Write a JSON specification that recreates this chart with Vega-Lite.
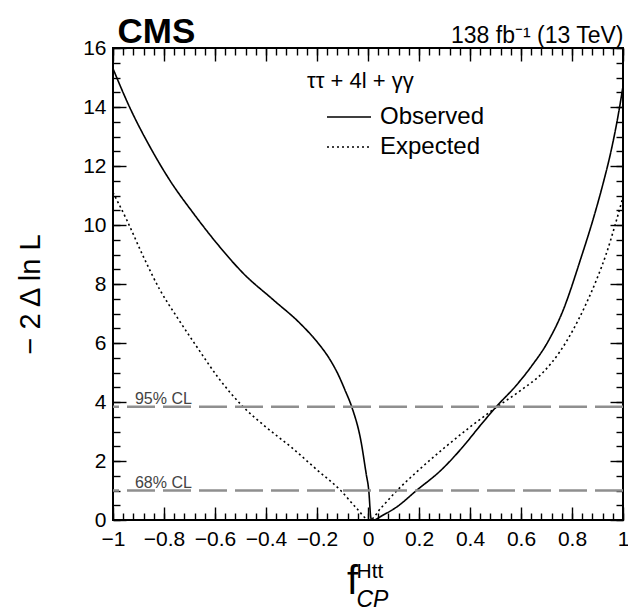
{
  "$schema": "https://vega.github.io/schema/vega-lite/v6.json",
  "width": 510,
  "height": 472,
  "autosize": "none",
  "padding": {"left": 113, "top": 48, "right": 5, "bottom": 91},
  "background": "white",
  "datasets": {
    "curves": [
      {"series": "Observed", "x": -1.0, "y": 15.3},
      {"series": "Observed", "x": -0.933, "y": 13.96},
      {"series": "Observed", "x": -0.855, "y": 12.65},
      {"series": "Observed", "x": -0.776, "y": 11.5},
      {"series": "Observed", "x": -0.685, "y": 10.4},
      {"series": "Observed", "x": -0.593, "y": 9.38},
      {"series": "Observed", "x": -0.489, "y": 8.36},
      {"series": "Observed", "x": -0.371, "y": 7.46},
      {"series": "Observed", "x": -0.267, "y": 6.67},
      {"series": "Observed", "x": -0.196, "y": 6.0},
      {"series": "Observed", "x": -0.15, "y": 5.45},
      {"series": "Observed", "x": -0.118, "y": 4.95},
      {"series": "Observed", "x": -0.09, "y": 4.4},
      {"series": "Observed", "x": -0.064, "y": 3.84},
      {"series": "Observed", "x": -0.028, "y": 2.69},
      {"series": "Observed", "x": -0.007, "y": 1.56},
      {"series": "Observed", "x": 0.003, "y": 1.0},
      {"series": "Observed", "x": 0.011, "y": 0.09},
      {"series": "Observed", "x": 0.015, "y": 0.0},
      {"series": "Observed", "x": 0.03, "y": 0.02},
      {"series": "Observed", "x": 0.05, "y": 0.12},
      {"series": "Observed", "x": 0.114, "y": 0.45},
      {"series": "Observed", "x": 0.19, "y": 1.0},
      {"series": "Observed", "x": 0.284, "y": 1.67},
      {"series": "Observed", "x": 0.37, "y": 2.46},
      {"series": "Observed", "x": 0.44, "y": 3.2},
      {"series": "Observed", "x": 0.503, "y": 3.84},
      {"series": "Observed", "x": 0.58, "y": 4.55},
      {"series": "Observed", "x": 0.64, "y": 5.2},
      {"series": "Observed", "x": 0.706, "y": 6.05},
      {"series": "Observed", "x": 0.76, "y": 7.0},
      {"series": "Observed", "x": 0.837, "y": 8.93},
      {"series": "Observed", "x": 0.882, "y": 10.17},
      {"series": "Observed", "x": 0.922, "y": 11.41},
      {"series": "Observed", "x": 0.954, "y": 12.54},
      {"series": "Observed", "x": 0.98, "y": 13.67},
      {"series": "Observed", "x": 1.0, "y": 14.7},
      {"series": "Expected", "x": -1.0, "y": 11.1},
      {"series": "Expected", "x": -0.946, "y": 10.17},
      {"series": "Expected", "x": -0.881, "y": 8.93},
      {"series": "Expected", "x": -0.816, "y": 7.8},
      {"series": "Expected", "x": -0.75, "y": 6.89},
      {"series": "Expected", "x": -0.672, "y": 5.88},
      {"series": "Expected", "x": -0.585, "y": 4.8},
      {"series": "Expected", "x": -0.49, "y": 3.84},
      {"series": "Expected", "x": -0.4, "y": 3.15},
      {"series": "Expected", "x": -0.3, "y": 2.46},
      {"series": "Expected", "x": -0.2, "y": 1.7},
      {"series": "Expected", "x": -0.107, "y": 1.0},
      {"series": "Expected", "x": -0.05, "y": 0.45},
      {"series": "Expected", "x": 0.007, "y": 0.0},
      {"series": "Expected", "x": 0.05, "y": 0.4},
      {"series": "Expected", "x": 0.114, "y": 1.0},
      {"series": "Expected", "x": 0.2, "y": 1.7},
      {"series": "Expected", "x": 0.3, "y": 2.45},
      {"series": "Expected", "x": 0.4, "y": 3.15},
      {"series": "Expected", "x": 0.5, "y": 3.8},
      {"series": "Expected", "x": 0.6, "y": 4.4},
      {"series": "Expected", "x": 0.686, "y": 5.0},
      {"series": "Expected", "x": 0.752, "y": 5.7},
      {"series": "Expected", "x": 0.804, "y": 6.44},
      {"series": "Expected", "x": 0.85, "y": 7.23},
      {"series": "Expected", "x": 0.896, "y": 8.14},
      {"series": "Expected", "x": 0.935, "y": 9.04},
      {"series": "Expected", "x": 0.967, "y": 9.94},
      {"series": "Expected", "x": 1.0, "y": 10.95}
    ],
    "cl": [
      {"label": "95% CL", "y": 3.84},
      {"label": "68% CL", "y": 1.0}
    ]
  },
  "layer": [
    {
      "data": {"name": "curves"},
      "transform": [{"filter": "datum.series === 'Observed'"}],
      "mark": {"type": "line", "color": "black", "strokeWidth": 1.6, "interpolate": "monotone"},
      "encoding": {
        "x": {"field": "x", "type": "quantitative", "scale": {"domain": [-1, 1], "nice": false, "zero": false},
          "axis": {"orient": "bottom", "values": [-1, -0.8, -0.6, -0.4, -0.2, 0, 0.2, 0.4, 0.6, 0.8, 1], "format": ".1~f", "tickSize": -13, "labelPadding": 21, "labelFlush": false, "labelOverlap": false, "labelFontSize": 21,
            "title": "f", "titleFontSize": 40, "titleFontWeight": "normal", "titleX": 239, "titleY": 73, "titleAlign": "center", "titleBaseline": "alphabetic", "titleAngle": 0}},
        "y": {"field": "y", "type": "quantitative", "scale": {"domain": [0, 16], "nice": false, "zero": false},
          "axis": {"orient": "left", "values": [0, 2, 4, 6, 8, 10, 12, 14, 16], "format": "d", "tickSize": -13, "labelPadding": 20, "labelOverlap": false, "labelFontSize": 21,
            "title": "− 2 Δ ln L", "titleFontSize": 29, "titleFontWeight": "normal", "titleX": -83, "titleY": 246, "titleAngle": -90, "titleAlign": "center", "titleBaseline": "middle"}},
        "strokeDash": {"field": "series", "type": "nominal", "scale": {"domain": ["Observed", "Expected"], "range": [[1, 0], [2, 3]]},
          "legend": {"orient": "none", "legendX": 194, "legendY": 23, "title": "ττ + 4l + γγ", "clipHeight": 30, "rowPadding": 0, "titlePadding": 9}}
      }
    },
    {
      "data": {"name": "curves"},
      "transform": [{"filter": "datum.series === 'Expected'"}],
      "mark": {"type": "line", "color": "black", "strokeWidth": 1.6, "interpolate": "monotone"},
      "encoding": {
        "x": {"field": "x", "type": "quantitative",
          "axis": {"orient": "top", "values": [-1, -0.8, -0.6, -0.4, -0.2, 0, 0.2, 0.4, 0.6, 0.8, 1], "labels": false, "tickSize": -13,
            "title": "138 fb⁻¹ (13 TeV)", "titleFontSize": 23, "titleFontWeight": "normal", "titleX": 510, "titleY": -6, "titleAlign": "right", "titleBaseline": "alphabetic", "titleAngle": 0}},
        "y": {"field": "y", "type": "quantitative",
          "axis": {"orient": "right", "values": [0, 2, 4, 6, 8, 10, 12, 14, 16], "labels": false, "tickSize": -13,
            "title": "CMS", "titleFontSize": 35, "titleFontWeight": "bold", "titleX": -506, "titleY": -6, "titleAngle": 0, "titleAlign": "left", "titleBaseline": "alphabetic"}},
        "strokeDash": {"field": "series", "type": "nominal"}
      }
    },
    {
      "data": {"name": "cl"},
      "mark": {"type": "rule", "color": "#8f8f8f", "strokeWidth": 2.6, "strokeDash": [28, 8]},
      "encoding": {
        "y": {"field": "y", "type": "quantitative",
          "axis": {"orient": "left", "values": [0, 0.5, 1, 1.5, 2, 2.5, 3, 3.5, 4, 4.5, 5, 5.5, 6, 6.5, 7, 7.5, 8, 8.5, 9, 9.5, 10, 10.5, 11, 11.5, 12, 12.5, 13, 13.5, 14, 14.5, 15, 15.5, 16], "labels": false, "tickSize": -7, "title": null}}
      }
    },
    {
      "data": {"name": "cl"},
      "transform": [{"filter": "datum.label === '95% CL'"}],
      "mark": {"type": "text", "align": "left", "baseline": "alphabetic", "dy": -3, "fontSize": 16, "color": "#444444", "font": "Liberation Sans"},
      "encoding": {
        "x": {"datum": -0.914, "type": "quantitative",
          "axis": {"orient": "bottom", "values": [-1, -0.96, -0.92, -0.88, -0.84, -0.8, -0.76, -0.72, -0.68, -0.64, -0.6, -0.56, -0.52, -0.48, -0.44, -0.4, -0.36, -0.32, -0.28, -0.24, -0.2, -0.16, -0.12, -0.08, -0.04, 0, 0.04, 0.08, 0.12, 0.16, 0.2, 0.24, 0.28, 0.32, 0.36, 0.4, 0.44, 0.48, 0.52, 0.56, 0.6, 0.64, 0.68, 0.72, 0.76, 0.8, 0.84, 0.88, 0.92, 0.96, 1], "labels": false, "tickSize": -7,
            "title": "Htt", "titleFontSize": 21, "titleFontWeight": "normal", "titleX": 243, "titleY": 57, "titleAlign": "left", "titleBaseline": "alphabetic", "titleAngle": 0}},
        "y": {"field": "y", "type": "quantitative",
          "axis": {"orient": "right", "values": [0, 0.5, 1, 1.5, 2, 2.5, 3, 3.5, 4, 4.5, 5, 5.5, 6, 6.5, 7, 7.5, 8, 8.5, 9, 9.5, 10, 10.5, 11, 11.5, 12, 12.5, 13, 13.5, 14, 14.5, 15, 15.5, 16], "labels": false, "tickSize": -7, "title": null}},
        "text": {"field": "label"}
      }
    },
    {
      "data": {"name": "cl"},
      "transform": [{"filter": "datum.label === '68% CL'"}],
      "mark": {"type": "text", "align": "left", "baseline": "alphabetic", "dy": -3, "fontSize": 16, "color": "#444444", "font": "Liberation Sans"},
      "encoding": {
        "x": {"datum": -0.914, "type": "quantitative",
          "axis": {"orient": "top", "values": [-1, -0.96, -0.92, -0.88, -0.84, -0.8, -0.76, -0.72, -0.68, -0.64, -0.6, -0.56, -0.52, -0.48, -0.44, -0.4, -0.36, -0.32, -0.28, -0.24, -0.2, -0.16, -0.12, -0.08, -0.04, 0, 0.04, 0.08, 0.12, 0.16, 0.2, 0.24, 0.28, 0.32, 0.36, 0.4, 0.44, 0.48, 0.52, 0.56, 0.6, 0.64, 0.68, 0.72, 0.76, 0.8, 0.84, 0.88, 0.92, 0.96, 1], "labels": false, "tickSize": -7,
            "title": "CP", "titleFontSize": 23, "titleFontStyle": "italic", "titleFontWeight": "normal", "titleX": 243, "titleY": 558, "titleAlign": "left", "titleBaseline": "alphabetic", "titleAngle": 0}},
        "y": {"field": "y", "type": "quantitative", "axis": null},
        "text": {"field": "label"}
      }
    }
  ],
  "resolve": {"axis": {"x": "independent", "y": "independent"}},
  "config": {
    "font": "Liberation Sans",
    "view": {"stroke": "black", "strokeWidth": 2},
    "axis": {"domain": false, "grid": false, "tickColor": "black", "tickWidth": 1.4, "labelColor": "black", "labelFont": "Liberation Sans", "titleFont": "Liberation Sans", "titleColor": "black"},
    "legend": {"titleFont": "Liberation Sans", "titleFontSize": 22, "titleFontWeight": "normal", "titleColor": "black",
      "labelFont": "Liberation Sans", "labelFontSize": 24, "labelColor": "black", "labelOffset": 8,
      "symbolType": "stroke", "symbolSize": 1936, "symbolStrokeWidth": 1.6, "symbolStrokeColor": "black", "symbolOffset": 19, "padding": 0}
  }
}
